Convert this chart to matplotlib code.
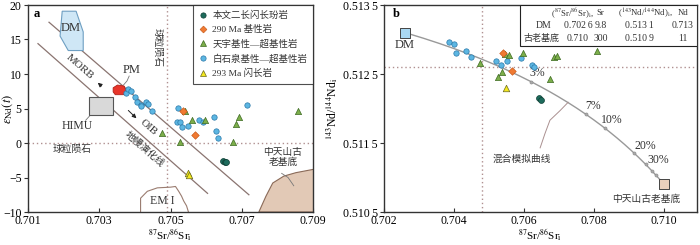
import numpy as np
import matplotlib
matplotlib.use('Agg')
import matplotlib.pyplot as plt
from matplotlib.patches import Polygon, Rectangle
from matplotlib.lines import Line2D

plt.rcParams['font.family'] = ['Liberation Serif', 'Noto Sans CJK SC']
plt.rcParams['mathtext.fontset'] = 'stix'
plt.rcParams['axes.unicode_minus'] = True

# ---- panel a data: 87Sr/86Sr_i vs eNd(t) ----
a_blue_x = [0.70376, 0.70382, 0.70390, 0.70399, 0.70407, 0.70418, 0.70418, 0.70432, 0.70438, 0.70449,
            0.70520, 0.70517, 0.70528, 0.70531, 0.70550, 0.70579, 0.70590, 0.70621, 0.70714, 0.70627, 0.70632]
a_blue_y = [7.3, 7.8, 7.5, 6.7, 6.0, 5.5, 5.3, 6.0, 5.7, 4.7,
            5.1, 3.1, 3.1, 2.3, 2.4, 3.3, 3.1, 3.8, 5.5, 1.8, 0.7]
a_green_x = [0.70542, 0.70559, 0.70596, 0.70692, 0.70683, 0.70675, 0.70858, 0.70475, 0.70528]
a_green_y = [4.7, 3.4, 3.4, 3.7, 2.7, 0.1, 4.6, 1.4, 0.1]
a_orange_x = [0.70534, 0.70568]
a_orange_y = [4.7, 1.1]
a_yellow_x = [0.70549, 0.70552]
a_yellow_y = [-4.3, -4.6]
a_teal_x = [0.70648, 0.70652, 0.70656]
a_teal_y = [-2.6, -2.8, -2.7]

# reservoir fields (panel a)
dm_x = [0.70196, 0.70235, 0.70255, 0.70255, 0.70213, 0.70190]
dm_y = [19.1, 19.1, 16.1, 13.4, 13.4, 15.5]
pm_x = [0.70339, 0.70351, 0.70370, 0.70376, 0.70368, 0.70345, 0.70339]
pm_y = [8.0, 8.4, 8.25, 7.5, 7.0, 7.0, 7.4]
himu_x = [0.70272, 0.70339]
himu_y = [4.1, 6.7]
em1_x = [0.70416, 0.70416, 0.70435, 0.70463, 0.70500, 0.70514, 0.70523, 0.70531, 0.70537, 0.70545, 0.70551]
em1_y = [-10.1, -8.0, -7.0, -6.5, -6.4, -6.3, -7.0, -7.7, -8.4, -9.1, -10.1]
base_x = [0.70748, 0.70768, 0.70787, 0.70818, 0.70852, 0.70903, 0.70920, 0.70920]
base_y = [-10.0, -7.7, -5.8, -4.8, -4.3, -3.8, -3.8, -10.0]
array_hi_x = [0.70159, 0.70720]
array_hi_y = [17.5, -7.5]
array_lo_x = [0.70128, 0.70604]
array_lo_y = [14.4, -7.3]
chur_sr = 0.7049

# ---- panel b data: 87Sr/86Sr_i vs 143Nd/144Nd_i ----
b_blue_x = [0.70386, 0.70400, 0.70406, 0.70434, 0.70449, 0.70520, 0.70534, 0.70551, 0.70591, 0.70623, 0.70629]
b_blue_y = [0.51297, 0.51293, 0.51281, 0.51283, 0.51274, 0.51269, 0.51263, 0.51269, 0.51273, 0.51263, 0.51260]
b_green_x = [0.70474, 0.70546, 0.70557, 0.70597, 0.70537, 0.70526, 0.70674, 0.70686, 0.70694, 0.70809]
b_green_y = [0.51266, 0.51279, 0.51277, 0.51280, 0.51253, 0.51246, 0.51243, 0.51274, 0.51276, 0.51283]
b_orange_x = [0.70540, 0.70566]
b_orange_y = [0.51280, 0.51254]
b_yellow_x = [0.70549]
b_yellow_y = [0.51229]
b_teal_x = [0.70644, 0.70648]
b_teal_y = [0.51215, 0.51213]

# mixing end-members (table values)
dm_sr_ratio, dm_sr, dm_nd_ratio, dm_nd = 0.7026, 9.8, 0.5131, 0.713
bs_sr_ratio, bs_sr, bs_nd_ratio, bs_nd = 0.710, 300, 0.5109, 11
mix_marks = [0.03, 0.07, 0.10, 0.20, 0.30, 0.40, 0.50]
mix_labels = ['3%', '7%', '10%', '20%', '30%']
mix_label_x = [0.70637, 0.70797, 0.70851, 0.70946, 0.70983]
mix_label_y = [0.51251, 0.51203, 0.51183, 0.51146, 0.51126]
b_yticks = [0.5105, 0.5115, 0.5125, 0.5135]
b_yticklabels = ['0.510\u20095', '0.511\u20095', '0.512\u20095', '0.513\u20095']

C_BLUE, C_BLUE_E = '#5cb6e2', '#2a78a8'
C_GREEN, C_GREEN_E = '#7cae4a', '#3d6a22'
C_ORANGE = '#f07a32'
C_YELLOW = '#f4e81e'
C_TEAL = '#1d6b5c'
C_LINE = '#8a7470'
C_DOT = '#b09090'
C_SPINE = '#333333'


def mix(f):
    sr = dm_sr * (1 - f) + bs_sr * f
    nd = dm_nd * (1 - f) + bs_nd * f
    r_sr = (dm_sr_ratio * dm_sr * (1 - f) + bs_sr_ratio * bs_sr * f) / sr
    r_nd = (dm_nd_ratio * dm_nd * (1 - f) + bs_nd_ratio * bs_nd * f) / nd
    return r_sr, r_nd


def style_axes(ax):
    for s in ax.spines.values():
        s.set_color(C_SPINE)
        s.set_linewidth(1.0)
    ax.tick_params(axis='x', direction='in', length=3, labelsize=8.5, color=C_SPINE, pad=2.5)
    ax.tick_params(axis='y', direction='out', length=3, labelsize=8.5, color=C_SPINE, pad=1.5)


def points(ax, xs, ys, kind):
    if kind == 'blue':
        ax.scatter(xs, ys, s=15, c=C_BLUE, edgecolors=C_BLUE_E, linewidths=0.5, zorder=5)
    elif kind == 'green':
        ax.scatter(xs, ys, s=20, marker='^', c=C_GREEN, edgecolors=C_GREEN_E, linewidths=0.5, zorder=5)
    elif kind == 'orange':
        ax.scatter(xs, ys, s=15, marker='D', c=C_ORANGE, edgecolors='#c05010', linewidths=0.4, zorder=5)
    elif kind == 'yellow':
        ax.scatter(xs, ys, s=22, marker='^', c=C_YELLOW, edgecolors='#6a6a20', linewidths=0.5, zorder=5)
    elif kind == 'teal':
        ax.scatter(xs, ys, s=18, c=C_TEAL, edgecolors='#0e3e34', linewidths=0.5, zorder=5)


fig = plt.figure(figsize=(7, 2.45), dpi=100)
axa = fig.add_axes([28 / 700, 33 / 245, 285 / 700, 207 / 245])
axb = fig.add_axes([384 / 700, 33 / 245, 313 / 700, 207 / 245])

# ================= panel a =================
axa.set_xlim(0.701, 0.709)
axa.set_ylim(-10, 20)
axa.set_xticks([0.701, 0.703, 0.705, 0.707, 0.709])
axa.set_xticklabels(['0.701', '0.703', '0.705', '0.707', '0.709'])
axa.set_yticks([-10, -5, 0, 5, 10, 15, 20])
style_axes(axa)

axa.axvline(chur_sr, color=C_DOT, ls=(0, (1, 2)), lw=1.0, zorder=1)
axa.axhline(0, color=C_DOT, ls=(0, (1, 2)), lw=1.0, zorder=1)
axa.plot(array_hi_x, array_hi_y, color=C_LINE, lw=0.9, zorder=2)
axa.plot(array_lo_x, array_lo_y, color=C_LINE, lw=0.9, zorder=2)

axa.add_patch(Polygon(np.column_stack([dm_x, dm_y]), closed=True, fc='#cfe7f6', ec='#6e9fc2', lw=0.8, zorder=3))
axa.add_patch(Polygon(np.column_stack([pm_x, pm_y]), closed=True, fc='#e8352a', ec='#b02018', lw=0.6, zorder=4))
axa.add_patch(Rectangle((himu_x[0], himu_y[0]), himu_x[1] - himu_x[0], himu_y[1] - himu_y[0],
                        fc='#d9d9d9', ec='#555555', lw=0.8, zorder=3))
axa.plot(em1_x, em1_y, color='#9a7c70', lw=0.8, zorder=2)
axa.add_patch(Polygon(np.column_stack([base_x, base_y]), closed=True, fc='#e2c9b6', ec='#8a6a58', lw=0.8, zorder=2))

points(axa, a_blue_x, a_blue_y, 'blue')
points(axa, a_green_x, a_green_y, 'green')
points(axa, a_orange_x, a_orange_y, 'orange')
points(axa, a_yellow_x, a_yellow_y, 'yellow')
points(axa, a_teal_x, a_teal_y, 'teal')

tc = '#333333'
axa.text(0.70221, 16.6, 'DM', fontsize=9, ha='center', va='center', color=tc, zorder=6)
axa.text(0.70390, 10.6, 'PM', fontsize=9, ha='center', va='center', color=tc)
axa.plot([0.70384, 0.70378, 0.70368], [9.7, 9.0, 8.4], color='#777777', lw=0.6)
axa.text(0.70238, 2.5, 'HIMU', fontsize=8.5, ha='center', va='center', color=tc)
axa.plot([0.70276, 0.70262], [4.1, 3.3], color='#777777', lw=0.6)
axa.text(0.70478, -8.4, 'EM I', fontsize=8.5, ha='center', va='center', color=tc)
axa.text(0.70246, 11.0, 'MORB', fontsize=8, ha='center', va='center', rotation=-41, color=tc)
axa.annotate('', xy=(0.70290, 9.0), xytext=(0.70312, 8.0),
             arrowprops=dict(arrowstyle='-|>', color='#222222', lw=0.7, mutation_scale=6))
axa.annotate('', xy=(0.70410, 3.3), xytext=(0.70376, 5.0),
             arrowprops=dict(arrowstyle='-|>', color='#222222', lw=0.7, mutation_scale=6))
axa.text(0.70438, 2.3, 'OIB', fontsize=8, ha='center', va='center', rotation=-41, color=tc)
axa.text(0.70427, -0.9, '地幔演化线', fontsize=7, ha='center', va='center', rotation=-41, color=tc)
axa.text(0.70463, 13.9, '球粒陨石', fontsize=7, ha='center', va='center', rotation=-90, color=tc)
axa.text(0.70224, -1.0, '球粒陨石', fontsize=7, ha='center', va='center', color=tc)
axa.text(0.70816, -2.1, '中天山古\n老基底', fontsize=7, ha='center', va='center', color=tc, linespacing=1.1)
axa.plot([0.70812, 0.70830, 0.70846], [-4.4, -5.0, -6.2], color='#777777', lw=0.6)
axa.text(0.02, 0.955, 'a', transform=axa.transAxes, fontsize=9, fontweight='bold', va='center')
axa.set_ylabel(r'$\varepsilon_{\mathrm{Nd}}(t)$', fontsize=9)
axa.yaxis.set_label_coords(-0.045, 0.5)
axa.set_xlabel(r'$^{87}$Sr/$^{86}$Sr$_{\mathrm{i}}$', fontsize=8, labelpad=0)

handles = [
    Line2D([], [], ls='', marker='o', ms=3.8, mfc=C_TEAL, mec='#0e3e34', mew=0.5),
    Line2D([], [], ls='', marker='D', ms=3.5, mfc=C_ORANGE, mec='#c05010', mew=0.4),
    Line2D([], [], ls='', marker='^', ms=4.3, mfc=C_GREEN, mec=C_GREEN_E, mew=0.5),
    Line2D([], [], ls='', marker='o', ms=3.8, mfc=C_BLUE, mec=C_BLUE_E, mew=0.5),
    Line2D([], [], ls='', marker='^', ms=4.3, mfc=C_YELLOW, mec='#6a6a20', mew=0.5),
]
labels = ['本文二长闪长玢岩', '290 Ma 基性岩', '天宇基性—超基性岩', '白石泉基性—超基性岩', '293 Ma 闪长岩']
leg = axa.legend(handles, labels, loc='upper right', bbox_to_anchor=(1.0, 1.0), borderaxespad=0,
                 fontsize=6.8, frameon=True, fancybox=False, handlelength=0.8, handletextpad=0.6,
                 labelspacing=0.55, borderpad=0.6)
leg.get_frame().set_edgecolor('#222222')
leg.get_frame().set_linewidth(0.8)
for t in leg.get_texts():
    t.set_color(tc)

# ================= panel b =================
axb.set_xlim(0.702, 0.71094)
axb.set_ylim(0.5105, 0.5135)
axb.set_xticks([0.702, 0.704, 0.706, 0.708, 0.710])
axb.set_xticklabels(['0.702', '0.704', '0.706', '0.708', '0.710'])
axb.set_yticks(b_yticks)
axb.set_yticklabels(b_yticklabels)
style_axes(axb)
axb.axvline(0.7048, color=C_DOT, ls=(0, (1, 2)), lw=1.0, zorder=1)
axb.axhline(0.5126, color=C_DOT, ls=(0, (1, 2)), lw=1.0, zorder=1)

f = np.linspace(0, 1, 400)
cx, cy = mix(f)
axb.plot(cx, cy, color='#999999', lw=1.0, zorder=2)
mx, my = mix(np.array(mix_marks))
axb.scatter(mx, my, s=5, c='#aaaaaa', edgecolors='#888888', linewidths=0.4, zorder=3)
for lab, lx, ly in zip(mix_labels, mix_label_x, mix_label_y):
    axb.text(lx, ly, lab, fontsize=8.5, ha='center', va='center', color=tc)

axb.scatter([dm_sr_ratio], [dm_nd_ratio], s=48, marker='s', c='#aad8f2', edgecolors='#444444', linewidths=0.7, zorder=6)
axb.scatter([bs_sr_ratio], [bs_nd_ratio], s=48, marker='s', c='#ead0bc', edgecolors='#444444', linewidths=0.7, zorder=6)

points(axb, b_blue_x, b_blue_y, 'blue')
points(axb, b_green_x, b_green_y, 'green')
points(axb, b_orange_x, b_orange_y, 'orange')
points(axb, b_yellow_x, b_yellow_y, 'yellow')
points(axb, b_teal_x, b_teal_y, 'teal')

axb.text(0.70260, 0.51292, 'DM', fontsize=9, ha='center', va='center', color=tc)
axb.text(0.70949, 0.51069, '中天山古老基底', fontsize=7, ha='center', va='center', color=tc)
axb.text(0.70594, 0.51126, '混合模拟曲线', fontsize=7, ha='center', va='center', color=tc)
axb.plot([0.70726, 0.70703, 0.70674, 0.70660, 0.70646],
         [0.51209, 0.51197, 0.51183, 0.51164, 0.51143], color='#aa9090', lw=0.7)
axb.text(0.028, 0.955, 'b', transform=axb.transAxes, fontsize=9, fontweight='bold', va='center')
axb.set_ylabel(r'$^{143}$Nd/$^{144}$Nd$_{\mathrm{i}}$', fontsize=8.5, labelpad=2)
axb.set_xlabel(r'$^{87}$Sr/$^{86}$Sr$_{\mathrm{i}}$', fontsize=8, labelpad=0)

# end-member table
axb.add_patch(Rectangle((0.434, 0.80), 0.566, 0.20, transform=axb.transAxes,
                        fc='white', ec='#222222', lw=0.8, zorder=7))
th = dict(transform=axb.transAxes, fontsize=6.3, ha='center', va='center', color=tc, zorder=8)
tk = dict(transform=axb.transAxes, fontsize=7, ha='center', va='center', color=tc, zorder=8)
axb.text(0.603, 0.962, r'($^{87}$Sr/$^{86}$Sr)$_{\mathrm{i}}$,', **th)
axb.text(0.692, 0.962, 'Sr', **th)
axb.text(0.836, 0.962, r'($^{143}$Nd/$^{144}$Nd)$_{\mathrm{i}}$,', **th)
axb.text(0.955, 0.962, 'Nd', **th)
axb.text(0.51, 0.900, 'DM', **tk)
axb.text(0.502, 0.838, '古老基底', fontsize=6.5, transform=axb.transAxes, ha='center', va='center',
         color=tc, zorder=8)
axb.text(0.620, 0.900, '0.702\u20096', **tk)
axb.text(0.692, 0.900, '9.8', **tk)
axb.text(0.815, 0.900, '0.513\u20091', **tk)
axb.text(0.955, 0.900, '0.713', **tk)
axb.text(0.620, 0.838, '0.710', **tk)
axb.text(0.692, 0.838, '300', **tk)
axb.text(0.815, 0.838, '0.510\u20099', **tk)
axb.text(0.955, 0.838, '11', **tk)

plt.savefig('out.png', dpi=100)
